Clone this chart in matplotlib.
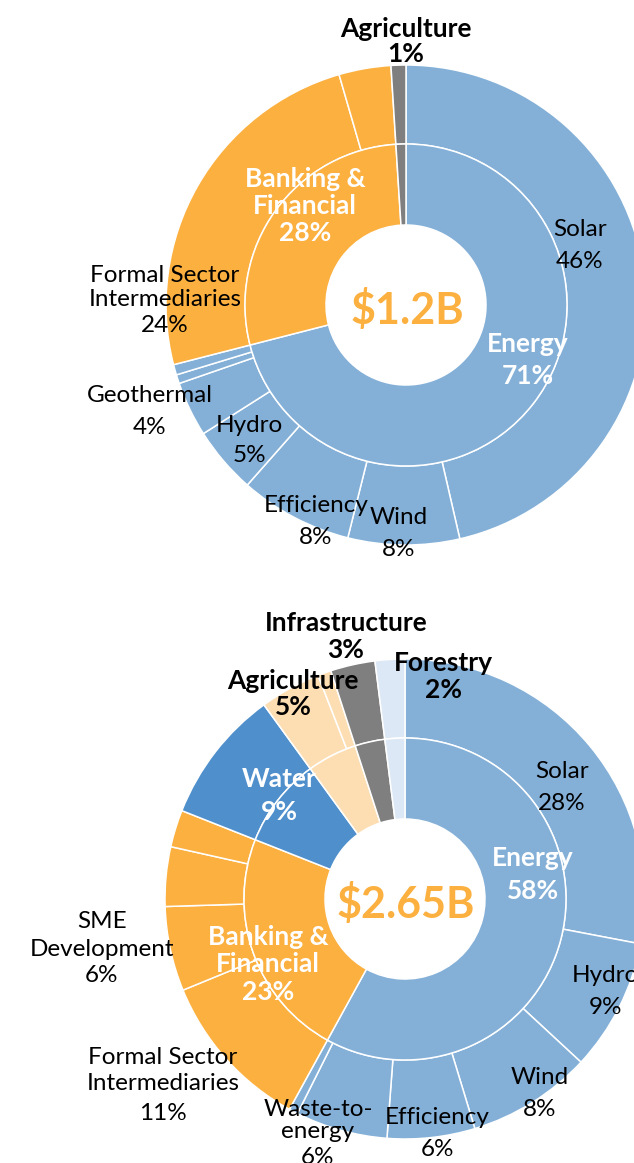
import numpy as np
import matplotlib.pyplot as plt

plt.rcParams['font.family'] = ['Lato', 'DejaVu Sans']

BLUE = '#84B0D8'
ORANGE = '#FBB040'
GRAY = '#7F7F7F'
WATER = '#4F8FCC'
PEACH = '#FDDEB3'
FOREST = '#DCE8F5'

# ---- chart 1: $1.2B ----
inner1_names = ['Energy', 'Banking & Financial', 'Agriculture']
inner1_vals = [71, 28, 1]
inner1_cols = [BLUE, ORANGE, GRAY]

outer1_names = ['Solar', 'Wind', 'Efficiency', 'Hydro', 'Geothermal', 'Other 1', 'Other 2',
                'Formal Sector Intermediaries', 'Other banking', 'Agriculture']
outer1_vals = [46.4, 7.5, 7.6, 4.5, 3.7, 0.6, 0.7, 24.5, 3.5, 1.0]
outer1_cols = [BLUE] * 7 + [ORANGE] * 2 + [GRAY]

# ---- chart 2: $2.65B ----
inner2_names = ['Energy', 'Banking & Financial', 'Water', 'Agriculture', 'Infrastructure', 'Forestry']
inner2_vals = [58, 23, 9, 5, 3, 2]
inner2_cols = [BLUE, ORANGE, WATER, PEACH, GRAY, FOREST]

outer2_names = ['Solar', 'Hydro', 'Wind', 'Efficiency', 'Waste-to-energy', 'Other',
                'Formal Sector Intermediaries', 'SME Development', 'Other banking 1', 'Other banking 2',
                'Water', 'Agriculture 1', 'Agriculture 2', 'Infrastructure', 'Forestry']
outer2_vals = [28.0, 8.9, 8.4, 5.9, 6.2, 0.6, 10.8, 5.7, 4.0, 2.5, 9, 4.1, 0.9, 3, 2]
outer2_cols = [BLUE] * 6 + [ORANGE] * 4 + [WATER, PEACH, PEACH, GRAY, FOREST]

W, H = 634, 1163
R_OUT, R_MID, R_HOLE = 240, 161, 80

fig = plt.figure(figsize=(W / 100, H / 100), dpi=100)
ax = fig.add_axes([0, 0, 1, 1])


def ring(vals, cols, center, r, width):
    ax.pie(vals, colors=cols, radius=r, center=center, startangle=90, counterclock=False,
           wedgeprops=dict(width=width, edgecolor='white', linewidth=1.1))


def label(x, ys, lines, bold=False, color='black'):
    # one text per line so the line gaps follow the original
    for y, s in zip(ys, lines):
        ax.text(x, H - y, s, ha='center', va='center_baseline', color=color,
                fontsize=19 if bold else 17.5, fontweight='bold' if bold else 'normal')


c1 = (406, H - 305)
ring(outer1_vals, outer1_cols, c1, R_OUT, R_OUT - R_MID)
ring(inner1_vals, inner1_cols, c1, R_MID, R_MID - R_HOLE)

c2 = (405, H - 899)
ring(outer2_vals, outer2_cols, c2, R_OUT, R_OUT - R_MID)
ring(inner2_vals, inner2_cols, c2, R_MID, R_MID - R_HOLE)

ax.set_xlim(0, W)
ax.set_ylim(0, H)
ax.set_aspect('auto')
ax.axis('off')

# chart 1 labels
label(406, [27, 52], ['Agriculture', '1%'], bold=True)
label(305, [177, 204, 231], ['Banking &', 'Financial', '28%'], bold=True, color='white')
label(528, [342, 374], ['Energy', '71%'], bold=True, color='white')
label(580, [228, 259], ['Solar', '46%'])
label(165, [273, 298, 323], ['Formal Sector', 'Intermediaries', '24%'])
label(150, [393, 425], ['Geothermal', '4%'])
label(249, [423, 454], ['Hydro', '5%'])
label(316, [503, 535], ['Efficiency', '8%'])
label(399, [515, 548], ['Wind', '8%'])
ax.text(407, H - 310, '$1.2B', ha='center', va='center', fontsize=31,
        fontweight='bold', color=ORANGE)

# chart 2 labels
label(346, [621, 648], ['Infrastructure', '3%'], bold=True)
label(443, [661, 688], ['Forestry', '2%'], bold=True)
label(293, [679, 705], ['Agriculture', '5%'], bold=True)
label(279, [777, 810], ['Water', '9%'], bold=True, color='white')
label(533, [856, 889], ['Energy', '58%'], bold=True, color='white')
label(562, [770, 801], ['Solar', '28%'])
label(605, [973, 1006], ['Hydro', '9%'])
label(540, [1075, 1107], ['Wind', '8%'])
label(437, [1115, 1148], ['Efficiency', '6%'])
label(318, [1107, 1130, 1155], ['Waste-to-', 'energy', '6%'])
label(268, [935, 962, 990], ['Banking &', 'Financial', '23%'], bold=True, color='white')
label(102, [920, 947, 973], ['SME', 'Development', '6%'])
label(163, [1056, 1081, 1112], ['Formal Sector', 'Intermediaries', '11%'])
ax.text(406, H - 904, '$2.65B', ha='center', va='center', fontsize=31,
        fontweight='bold', color=ORANGE)

fig.savefig('out.png', dpi=100)
